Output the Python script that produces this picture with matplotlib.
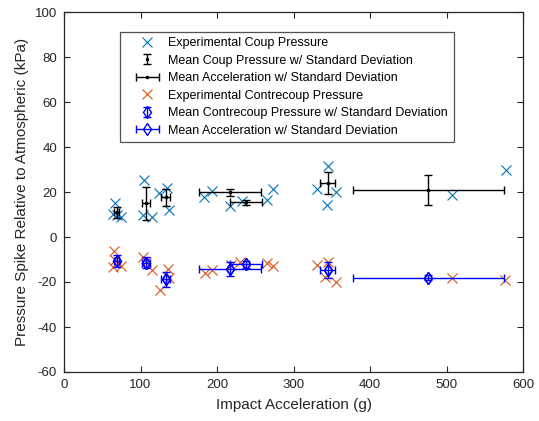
import matplotlib
matplotlib.use("Agg")
import matplotlib.pyplot as plt
from matplotlib.legend_handler import HandlerErrorbar

plt.rcParams['font.family'] = ['Liberation Sans', 'DejaVu Sans']
plt.rcParams['axes.unicode_minus'] = False

# Experimental coup pressure points (g, kPa)
coup_g = [66.7, 64.5, 69.7, 74.0, 104.6, 103.7, 114.6, 124.2, 135.0, 137.3,
          183.0, 193.0, 273.6, 217.0, 232.2, 265.0, 345.5, 331.0, 355.6, 343.4,
          506.8, 577.3]
coup_p = [15.0, 10.2, 9.8, 9.0, 25.3, 9.8, 9.0, 19.4, 21.6, 12.0,
          17.9, 20.6, 21.3, 13.8, 16.1, 16.4, 31.7, 21.3, 19.9, 14.2,
          18.7, 29.8]

# Experimental contrecoup pressure points (g, kPa)
contre_g = [66.0, 67.0, 64.5, 74.0, 103.7, 107.2, 114.6, 136.4, 125.5, 137.0,
            184.3, 193.0, 273.6, 217.9, 230.0, 265.0, 331.0, 345.5, 355.6, 341.2,
            506.8, 576.5]
contre_p = [-6.1, -10.2, -13.5, -12.9, -9.0, -11.0, -14.7, -14.4, -23.6, -18.4,
            -16.1, -14.7, -12.9, -12.4, -11.0, -11.7, -12.4, -11.0, -20.1, -17.6,
            -18.4, -19.1]

# Group means and standard deviations
mean_g = [68.9, 107.2, 132.9, 217.0, 237.9, 344.5, 476.3]
std_g = [3.5, 5.0, 5.9, 40.3, 20.3, 9.8, 98.5]
mean_coup = [11.0, 15.0, 17.6, 19.9, 15.4, 24.1, 20.9]
std_coup = [2.4, 7.4, 3.6, 1.5, 1.0, 5.0, 6.6]
mean_contre = [-10.7, -11.4, -18.8, -14.2, -12.1, -14.7, -18.1]
std_contre = [2.6, 2.4, 3.3, 3.1, 1.5, 3.7, 1.0]

labels = ["Experimental Coup Pressure",
          "Mean Coup Pressure w/ Standard Deviation",
          "Mean Acceleration w/ Standard Deviation",
          "Experimental Contrecoup Pressure",
          "Mean Contrecoup Pressure w/ Standard Deviation",
          "Mean Acceleration w/ Standard Deviation"]

c_coup = (0.0, 0.447, 0.741)
c_contre = (0.85, 0.325, 0.098)
axc = (0.15, 0.15, 0.15)

fig = plt.figure(figsize=(5.39, 4.21), dpi=100)
ax = fig.add_axes([64/539, 49/421, 459/539, 360/421])

h1, = ax.plot(coup_g, coup_p, 'x', color=c_coup, markersize=7.5, mew=0.8, linestyle='none')
h2 = ax.errorbar(mean_g, mean_coup, yerr=std_coup, fmt='.', color='k', markersize=3,
                 elinewidth=1, capsize=3, capthick=1)
h3 = ax.errorbar(mean_g, mean_coup, xerr=std_g, fmt='.', color='k', markersize=3,
                 elinewidth=1, capsize=3, capthick=1)
h4, = ax.plot(contre_g, contre_p, 'x', color=c_contre, markersize=7.5, mew=0.8, linestyle='none')
h5 = ax.errorbar(mean_g, mean_contre, yerr=std_contre, fmt='d', color='b', mfc='none',
                 markersize=6, mew=1, elinewidth=1, capsize=3, capthick=1)
h6 = ax.errorbar(mean_g, mean_contre, xerr=std_g, fmt='d', color='b', mfc='none',
                 markersize=6, mew=1, elinewidth=1, capsize=3, capthick=1)

ax.set_xlim(0, 600)
ax.set_ylim(-60, 100)
ax.set_xticks(range(0, 601, 100))
ax.set_yticks(range(-60, 101, 20))
ax.tick_params(direction='in', length=4, width=0.8, top=True, right=True,
               labelsize=9.5, colors=axc, pad=5)
for s in ax.spines.values():
    s.set_color(axc)
    s.set_linewidth(0.9)

ax.set_xlabel("Impact Acceleration (g)", fontsize=11, color=axc)
ax.set_ylabel("Pressure Spike Relative to Atmospheric (kPa)", fontsize=11, color=axc)
ax.xaxis.set_label_coords(0.5, -0.072)
ax.yaxis.set_label_coords(-0.076, 0.5)

hm = HandlerErrorbar(xerr_size=0.92, yerr_size=0.4)
leg = ax.legend([h1, h2, h3, h4, h5, h6], labels, loc='upper left',
                bbox_to_anchor=(120/539, 1 - 31.7/421), bbox_transform=fig.transFigure,
                borderaxespad=0.0,
                fontsize=9, frameon=True, fancybox=False, borderpad=0.45,
                handlelength=3.42, handletextpad=0.0, labelspacing=0.44,
                numpoints=1, handler_map={h2: hm, h3: hm, h5: hm, h6: hm})
leg.get_frame().set_edgecolor(axc)
leg.get_frame().set_linewidth(0.9)

fig.savefig("out.png", dpi=100)
